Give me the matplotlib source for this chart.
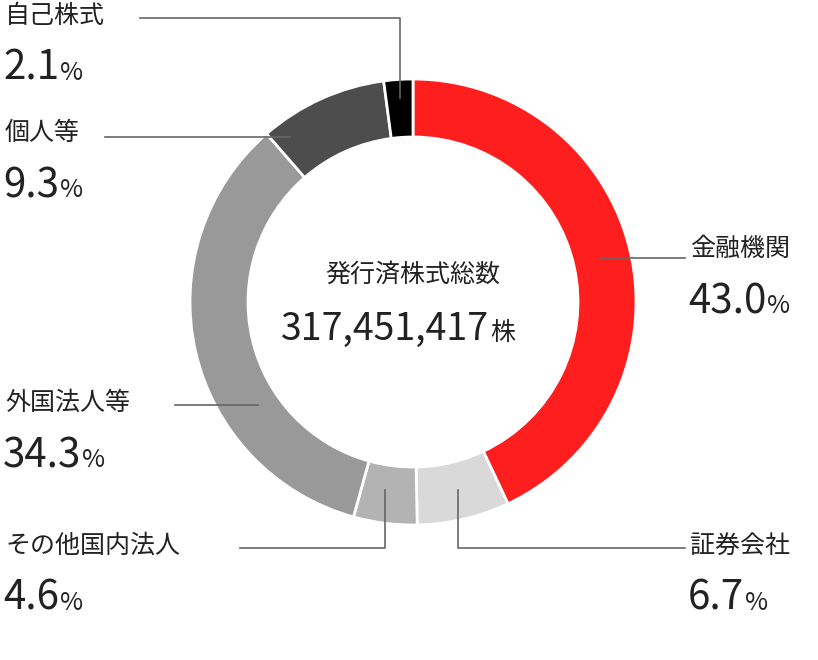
import matplotlib
matplotlib.use("Agg")
import matplotlib.pyplot as plt

plt.rcParams['font.family'] = ['Noto Sans CJK JP', 'DejaVu Sans']

names = ["金融機関", "証券会社", "その他国内法人", "外国法人等", "個人等", "自己株式"]
shares = [43.0, 6.7, 4.6, 34.3, 9.3, 2.1]
colors = ["#ff1e1e", "#d9d9d9", "#b3b3b3", "#999999", "#4d4d4d", "#000000"]
total_label = "317,451,417"

H = 660
fig = plt.figure(figsize=(8.18, 6.6), dpi=100)
ax = fig.add_axes([0, 0, 1, 1])

cx, cy, r = 413, H - 302, 223
ax.pie(shares, colors=colors, startangle=90, counterclock=False, center=(cx, cy),
       radius=r, wedgeprops=dict(width=58, edgecolor="white", linewidth=2), frame=True)
ax.set_xlim(0, 818)
ax.set_ylim(0, H)
ax.set_aspect("equal")
ax.axis("off")


def num_with_unit(x, y, num, unit, size, usize):
    t = ax.text(x, y, num, ha="left", va="baseline", fontsize=size, color="#222")
    fig.canvas.draw()
    bb = t.get_window_extent()
    inv = ax.transData.inverted()
    x1 = inv.transform((bb.x1, bb.y0))[0]
    ax.text(x1 + 1, y, unit, ha="left", va="baseline", fontsize=usize, color="#222")


ax.text(cx, H - 275, "発行済株式総数", ha="center", va="center", fontsize=18, color="#222")
num_with_unit(cx - 132, H - 340, total_label, "株", 27, 18)

line_kw = dict(color="#666666", lw=1.2)
labels = [
    (690, 238, [(600, 258), (685, 258)]),
    (690, 535, [(458, 490), (458, 548), (685, 548)]),
    (5, 535, [(240, 548), (385, 548), (385, 490)]),
    (5, 392, [(175, 405), (258, 405)]),
    (5, 122, [(105, 137), (290, 137)]),
    (5, 5, [(140, 18), (400, 18), (400, 98)]),
]
for (lx, ly, pts), name, val in zip(labels, names, shares):
    ax.plot([p[0] for p in pts], [H - p[1] for p in pts], **line_kw)
    ax.text(lx, H - ly + 2, name, ha="left", va="top", fontsize=18, color="#222")
    num_with_unit(lx - 2, H - ly - 75, f"{val:.1f}", "%", 29, 18)

fig.savefig("out.png", dpi=100)
